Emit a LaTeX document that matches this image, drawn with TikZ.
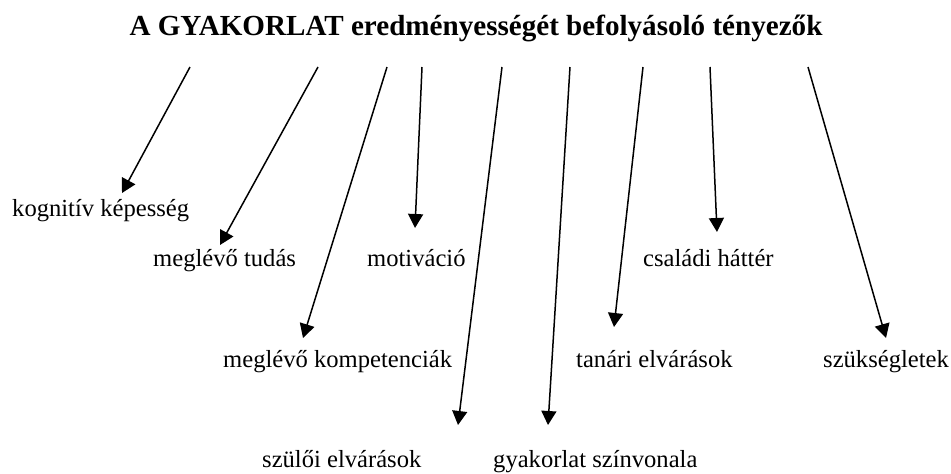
\documentclass[tikz,border=0pt]{standalone}
\usepackage{fontspec}
\setmainfont{Liberation Serif}
\usetikzlibrary{arrows.meta}
\begin{document}
\begin{tikzpicture}[x=1pt,y=-1pt,
  factor/.style={anchor=base west, inner sep=0pt, font=\fontsize{24.6}{28}\selectfont},
  heading/.style={anchor=base, inner sep=0pt, font=\fontsize{29.1}{34}\selectfont\bfseries},
  influence/.style={line width=1.5pt, -{Triangle[length=14pt,width=15pt]}}]
\useasboundingbox (0,0) rectangle (951,474);

% heading
\node[heading] (title) at (476,35) {A GYAKORLAT eredményességét befolyásoló tényezők};

% factors
\node[factor] (kog)  at (12,216)  {kognitív képesség};
\node[factor] (tud)  at (153,266) {meglévő tudás};
\node[factor] (mot)  at (367,266) {motiváció};
\node[factor] (komp) at (223,367) {meglévő kompetenciák};
\node[factor] (csal) at (643,266) {családi háttér};
\node[factor] (tan)  at (576,367) {tanári elvárások};
\node[factor] (szuk) at (823,367) {szükségletek};
\node[factor] (szul) at (262,467) {szülői elvárások};
\node[factor] (gyak) at (493,467) {gyakorlat színvonala};

% arrow starts below the heading
\coordinate (s1) at (190,67);
\coordinate (s2) at (318,67);
\coordinate (s3) at (387,67);
\coordinate (s4) at (422,67);
\coordinate (s5) at (502,67);
\coordinate (s6) at (570,67);
\coordinate (s7) at (643,67);
\coordinate (s8) at (710,67);
\coordinate (s9) at (808,67);

% arrow tips above each factor
\coordinate (t1) at (122,193);
\coordinate (t2) at (220,245);
\coordinate (t3) at (303,338);
\coordinate (t4) at (415,228);
\coordinate (t5) at (458,425);
\coordinate (t6) at (548,425);
\coordinate (t7) at (614,327);
\coordinate (t8) at (717,232);
\coordinate (t9) at (886,338);

\draw[influence] (s1) -- (t1);
\draw[influence] (s2) -- (t2);
\draw[influence] (s3) -- (t3);
\draw[influence] (s4) -- (t4);
\draw[influence] (s5) -- (t5);
\draw[influence] (s6) -- (t6);
\draw[influence] (s7) -- (t7);
\draw[influence] (s8) -- (t8);
\draw[influence] (s9) -- (t9);
\end{tikzpicture}
\end{document}
